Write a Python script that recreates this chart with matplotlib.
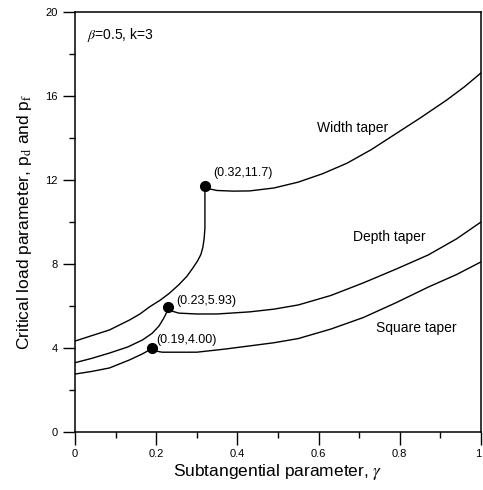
import matplotlib
matplotlib.use("Agg")
import matplotlib.pyplot as plt
from matplotlib.ticker import MultipleLocator

plt.rcParams['font.family'] = ['Liberation Sans', 'DejaVu Sans']
plt.rcParams['mathtext.fontset'] = 'stix'

# width taper: lower branch up to the jump, upper branch after it
width_lo_x = [0.0, 0.04, 0.085, 0.134, 0.16, 0.183, 0.21, 0.232, 0.255, 0.275,
              0.29, 0.302, 0.31, 0.315, 0.318, 0.32, 0.32]
width_lo_y = [4.33, 4.58, 4.86, 5.33, 5.62, 5.95, 6.28, 6.6, 7.0, 7.4,
              7.8, 8.15, 8.45, 8.8, 9.2, 9.7, 11.7]
width_hi_x = [0.32, 0.33, 0.35, 0.39, 0.43, 0.49, 0.55, 0.61, 0.67, 0.73,
              0.79, 0.85, 0.915, 0.96, 1.0]
width_hi_y = [11.7, 11.58, 11.5, 11.47, 11.48, 11.62, 11.9, 12.3, 12.8, 13.45,
              14.2, 14.95, 15.8, 16.45, 17.1]

depth_lo_x = [0.0, 0.04, 0.085, 0.13, 0.166, 0.19, 0.207, 0.218, 0.226, 0.23]
depth_lo_y = [3.3, 3.5, 3.76, 4.05, 4.38, 4.7, 5.05, 5.4, 5.7, 5.93]
depth_hi_x = [0.23, 0.24, 0.256, 0.3, 0.35, 0.43, 0.49, 0.55, 0.63, 0.71,
              0.79, 0.87, 0.94, 1.0]
depth_hi_y = [5.93, 5.75, 5.66, 5.62, 5.62, 5.72, 5.85, 6.05, 6.5, 7.1,
              7.75, 8.43, 9.2, 10.0]

square_lo_x = [0.0, 0.04, 0.085, 0.134, 0.166, 0.18, 0.19]
square_lo_y = [2.76, 2.88, 3.05, 3.43, 3.72, 3.87, 4.0]
square_hi_x = [0.19, 0.2, 0.215, 0.3, 0.37, 0.43, 0.49, 0.55, 0.63, 0.71,
               0.79, 0.87, 0.94, 1.0]
square_hi_y = [4.0, 3.85, 3.8, 3.8, 3.95, 4.1, 4.25, 4.45, 4.9, 5.45,
               6.15, 6.9, 7.5, 8.1]

points_x = [0.32, 0.23, 0.19]
points_y = [11.7, 5.93, 4.00]
point_labels = ['(0.32,11.7)', '(0.23,5.93)', '(0.19,4.00)']

fig = plt.figure(figsize=(4.83, 4.90), dpi=100)
ax = fig.add_axes([75/483, 58/490, 406/483, 420/490])

for xs, ys in [(width_lo_x, width_lo_y), (width_hi_x, width_hi_y),
               (depth_lo_x, depth_lo_y), (depth_hi_x, depth_hi_y),
               (square_lo_x, square_lo_y), (square_hi_x, square_hi_y)]:
    ax.plot(xs, ys, color='black', lw=1.0)

ax.plot(points_x, points_y, 'o', color='black', ms=7)
offsets = [(0.02, 0.35), (0.02, 0.0), (0.01, 0.1)]
for px, py, lab, (dx, dy) in zip(points_x, points_y, point_labels, offsets):
    ax.text(px + dx, py + dy, lab, fontsize=9, ha='left', va='bottom')

ax.text(0.685, 14.5, 'Width taper', fontsize=10, ha='center', va='center')
ax.text(0.775, 9.3, 'Depth taper', fontsize=10, ha='center', va='center')
ax.text(0.84, 4.95, 'Square taper', fontsize=10, ha='center', va='center')
ax.text(0.03, 18.9, r'$\beta$=0.5, k=3', fontsize=10, ha='left', va='center')

ax.set_xlim(0, 1)
ax.set_ylim(0, 20)
ax.xaxis.set_minor_locator(MultipleLocator(0.1))
ax.yaxis.set_major_locator(MultipleLocator(4))
ax.yaxis.set_minor_locator(MultipleLocator(2))
ax.set_xticks([0, 0.2, 0.4, 0.6, 0.8, 1.0])
ax.set_xticklabels(['0', '0.2', '0.4', '0.6', '0.8', '1'])
ax.get_xticklabels()[-1].set_horizontalalignment('right')
ax.tick_params(which='major', direction='out', length=9, width=1, labelsize=8)
ax.tick_params(which='minor', direction='out', length=4, width=1)
for s in ax.spines.values():
    s.set_linewidth(1.1)

ax.set_xlabel(r'Subtangential parameter, $\gamma$', fontsize=12.5, labelpad=2)
ax.set_ylabel(r'Critical load parameter, p$_\mathrm{d}$ and p$_\mathrm{f}$', fontsize=12.5, labelpad=8)

fig.savefig('out.png', dpi=100)
